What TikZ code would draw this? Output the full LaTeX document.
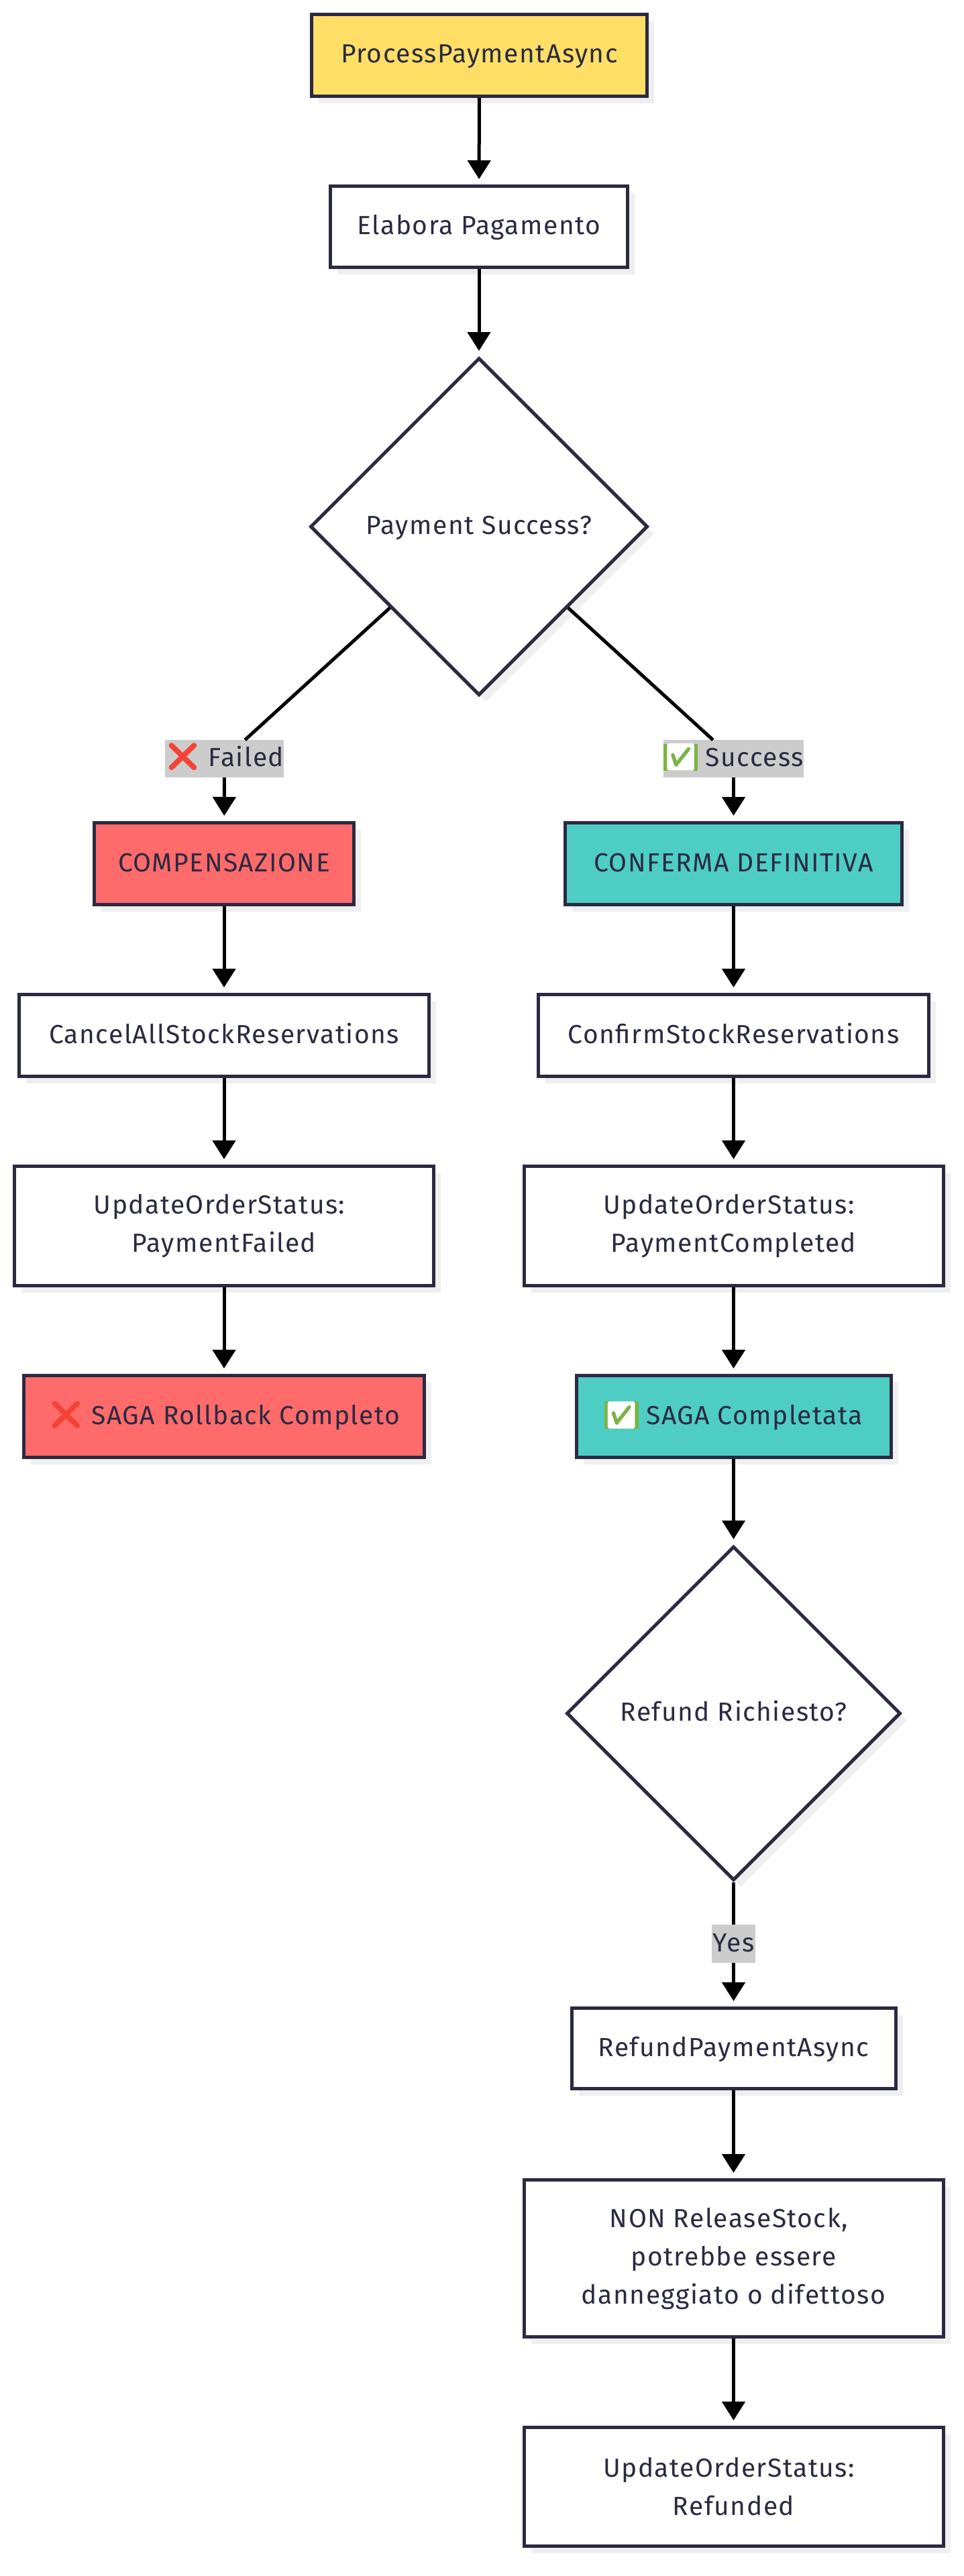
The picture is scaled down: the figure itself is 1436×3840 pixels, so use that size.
\documentclass[tikz,border=0pt]{standalone}
\usepackage{fontspec}
\setmainfont[LetterSpace=3.8]{Fira Sans}
\newfontfamily\emojifont{Noto Emoji}
\usepackage{xcolor}
\usepackage{tikz}
\usetikzlibrary{shapes.geometric,arrows.meta,shadows}
\definecolor{inkcol}{HTML}{2A2A42}
\definecolor{yellowcol}{HTML}{FFDF66}
\definecolor{redcol}{HTML}{FF6B6B}
\definecolor{tealcol}{HTML}{4ECDC4}
\definecolor{labelcol}{HTML}{CCCCCC}
\definecolor{shadowcol}{HTML}{EFEFF0}
\definecolor{crosscol}{HTML}{F44336}
\definecolor{checkcol}{HTML}{7CB342}
\newcommand{\crossmoji}{{\emojifont\fontsize{42}{57}\selectfont\color{crosscol}❌}}
\newcommand{\checkmoji}{{\setlength{\fboxsep}{0pt}\emojifont\fontsize{40}{57}\selectfont\colorbox{checkcol}{\color{white}✅}}}
\newcommand{\trailgap}{\hspace*{14pt}}
\tikzset{
  mainfont/.style={font=\fontsize{39}{57}\selectfont,text=inkcol},
  stepbox/.style={draw=inkcol,line width=5pt,fill=white,rectangle,align=center,inner sep=0pt,
    mainfont,drop shadow={shadow xshift=10.5pt,shadow yshift=-10.5pt,fill=shadowcol,opacity=1}},
  oneline/.style={text height=31pt,text depth=8pt},
  decision/.style={stepbox,oneline,diamond,aspect=1},
  edgelab/.style={fill=labelcol,inner sep=0pt,outer sep=0pt,mainfont,oneline},
  link/.style={line width=5pt,black},
  arrowlink/.style={link,-{Triangle[length=28pt,width=34pt]},shorten >=8pt}
}
\begin{document}
\begin{tikzpicture}[x=1pt,y=-1pt]
    \useasboundingbox (0,0) rectangle (1436,3840);

    \node[stepbox,oneline,fill=yellowcol,minimum width=500pt,minimum height=122pt] (start) at (714.5,82.5) {ProcessPaymentAsync};
    \node[stepbox,oneline,minimum width=443pt,minimum height=121pt] (elabora) at (714,338) {Elabora Pagamento};
    \node[decision,minimum width=503pt,minimum height=503pt] (paycheck) at (714,785) {Payment Success?};

    \node[edgelab,minimum width=173pt,minimum height=56pt] (failedlab) at (334.5,1131) {\crossmoji{} Failed};
    \node[edgelab,minimum width=206pt,minimum height=56pt] (successlab) at (1093.5,1131) {\checkmoji{} Success};

    \node[stepbox,oneline,fill=redcol,minimum width=387pt,minimum height=122pt] (compensa) at (334,1287.5) {COMPENSAZIONE};
    \node[stepbox,oneline,fill=tealcol,minimum width=502pt,minimum height=122pt] (conferma) at (1093.5,1287.5) {CONFERMA DEFINITIVA};

    \node[stepbox,oneline,minimum width=611pt,minimum height=122pt] (cancelstock) at (334,1543.5) {CancelAllStockReservations};
    \node[stepbox,oneline,minimum width=582pt,minimum height=122pt] (confirmstock) at (1093.5,1543.5) {ConfirmStockReservations};

    \node[stepbox,minimum width=625pt,minimum height=178pt] (statusfailed) at (334,1827.5) {UpdateOrderStatus:\trailgap\\PaymentFailed};
    \node[stepbox,minimum width=625pt,minimum height=178pt] (statusdone) at (1093.5,1827.5) {UpdateOrderStatus:\trailgap\\PaymentCompleted};

    \node[stepbox,oneline,fill=redcol,minimum width=597pt,minimum height=122pt] (rollback) at (334,2111.5) {\crossmoji{} SAGA Rollback Completo};
    \node[stepbox,oneline,fill=tealcol,minimum width=469pt,minimum height=122pt] (sagadone) at (1093.5,2111.5) {\checkmoji{} SAGA Completata};

    \node[decision,minimum width=498pt,minimum height=498pt] (refundcheck) at (1093.5,2554) {Refund Richiesto?};
    \node[edgelab,minimum width=65pt,minimum height=57pt] (yeslab) at (1093.5,2897.5) {Yes};

    \node[stepbox,oneline,minimum width=483pt,minimum height=120pt] (refund) at (1093.5,3053.5) {RefundPaymentAsync};
    \node[stepbox,minimum width=625pt,minimum height=234pt] (nonrelease) at (1093.5,3366.5) {NON ReleaseStock,\trailgap\\potrebbe essere\trailgap\\danneggiato o difettoso};
    \node[stepbox,minimum width=625pt,minimum height=177pt] (statusrefund) at (1093.5,3707) {UpdateOrderStatus:\trailgap\\Refunded};

    \draw[arrowlink] (start) -- (elabora);
    \draw[arrowlink] (elabora) -- (paycheck);
    \draw[link] (paycheck) -- (failedlab);
    \draw[link] (paycheck) -- (successlab);
    \draw[arrowlink] (failedlab) -- (compensa);
    \draw[arrowlink] (successlab) -- (conferma);
    \draw[arrowlink] (compensa) -- (cancelstock);
    \draw[arrowlink] (cancelstock) -- (statusfailed);
    \draw[arrowlink] (statusfailed) -- (rollback);
    \draw[arrowlink] (conferma) -- (confirmstock);
    \draw[arrowlink] (confirmstock) -- (statusdone);
    \draw[arrowlink] (statusdone) -- (sagadone);
    \draw[arrowlink] (sagadone) -- (refundcheck);
    \draw[link] (refundcheck) -- (yeslab);
    \draw[arrowlink] (yeslab) -- (refund);
    \draw[arrowlink] (refund) -- (nonrelease);
    \draw[arrowlink] (nonrelease) -- (statusrefund);
  \end{tikzpicture}
\end{document}
